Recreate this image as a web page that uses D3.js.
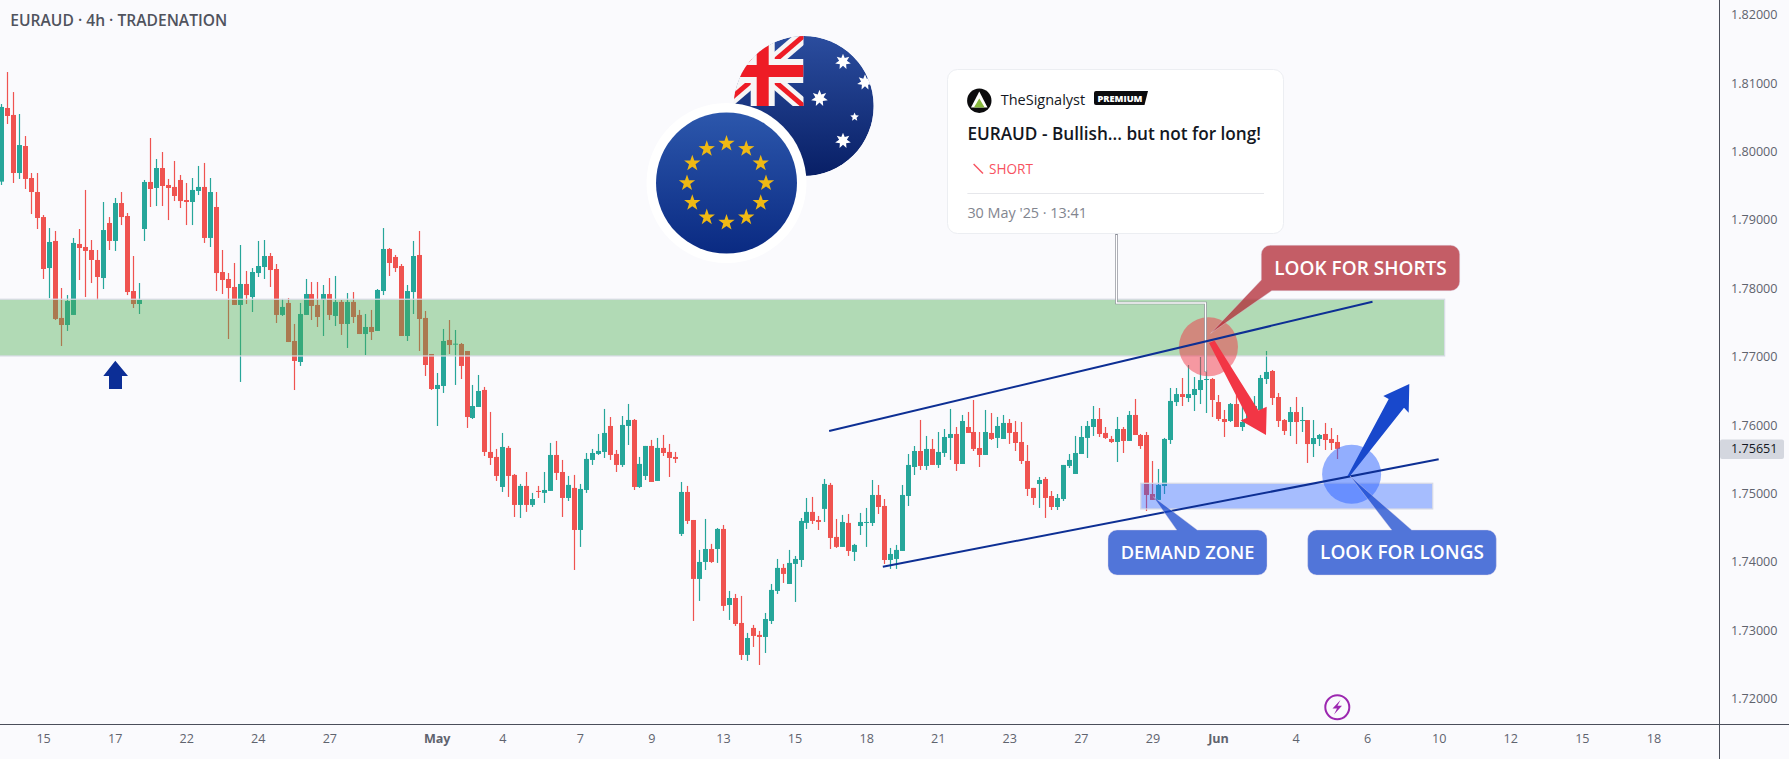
<!DOCTYPE html>
<html>
<head>
<meta charset="utf-8">
<title>EURAUD 4h</title>
<script src="https://cdn.jsdelivr.net/npm/d3@7/dist/d3.min.js"></script>
<style>
  html, body { margin: 0; padding: 0; background: #fafafd; overflow: hidden; }
  svg { display: block; }
  text { font-family: "Open Sans", "Noto Sans", sans-serif; }
</style>
</head>
<body>
<svg id="chart" width="1789" height="759"></svg>
<script>
// EURAUD 4h candles, one entry per bar
const opens = [
1.79560,1.80637,1.80535,1.79686,1.80081,1.79613,1.79408,1.79042,1.78296,1.78692,1.77566,1.77463,1.77610,1.78648,1.78604,1.78560,1.78414,1.78150,1.78955,1.78692,1.79247,1.79057,1.77960,1.77770,1.78867,
1.79555,1.79467,1.79759,1.79511,1.79482,1.79584,1.79291,1.79262,1.79423,1.79482,1.78736,1.79189,1.78238,1.78136,1.78019,1.77756,1.78063,1.77872,1.78223,1.78311,1.78472,1.78282,1.77610,1.77785,1.77229,
1.76922,1.77610,1.77916,1.77756,1.77829,1.77916,1.77595,1.77800,1.77478,1.77800,1.77610,1.77331,1.77434,1.77376,1.77960,1.78575,1.78458,1.78326,1.77302,1.77945,1.78487,1.77566,1.77039,1.76527,1.76571,
1.77244,1.77175,1.77185,1.77083,1.76103,1.76264,1.76513,1.75606,1.75533,1.75094,1.75665,1.75270,1.74831,1.75109,1.74831,1.75036,1.75007,1.75036,1.75562,1.75313,1.74933,1.75080,1.74465,1.75050,1.75489,
1.75577,1.75606,1.75986,1.75577,1.75416,1.75986,1.76074,1.75094,1.75255,1.75694,1.75182,1.75665,1.75606,1.75533,1.74407,1.75021,1.74611,1.73749,1.73997,1.74187,1.74187,1.74480,1.73368,1.73470,1.73105,
1.72637,1.73032,1.72930,1.72900,1.73134,1.73573,1.73910,1.73675,1.73968,1.74026,1.74568,1.74729,1.74611,1.74773,1.75124,1.74363,1.74217,1.74568,1.74144,1.74523,1.74572,1.74567,1.74977,1.74816,1.74026,
1.74041,1.74158,1.74962,1.75386,1.75620,1.75401,1.75650,1.75416,1.75591,1.75811,1.75869,1.75430,1.75971,1.75898,1.75664,1.75562,1.75884,1.75811,1.75796,1.76030,1.75898,1.75752,1.75474,1.75080,1.75138,
1.75211,1.74962,1.74801,1.74918,1.75401,1.75284,1.75576,1.75811,1.75971,1.76088,1.75884,1.75796,1.75752,1.75942,1.75767,1.76147,1.75854,1.75854,1.74991,1.74904,1.75108,1.75781,1.76336,1.76453,1.76395,
1.76439,1.76512,1.76663,1.76673,1.76336,1.76088,1.76059,1.76307,1.75971,1.76044,1.76220,1.76220,1.76673,1.76790,1.76410,1.76073,1.76044,1.76190,1.76059,1.76073,1.75722,1.75796,1.75869,1.75796,1.75752
];
const closes = [
1.80652,1.80520,1.79686,1.80095,1.79599,1.79408,1.79028,1.78282,1.78677,1.77551,1.77463,1.77814,1.78663,1.78589,1.78546,1.78414,1.78165,1.78852,1.78692,1.79247,1.79042,1.77945,1.77770,1.77829,1.79555,
1.79452,1.79759,1.79496,1.79467,1.79350,1.79276,1.79262,1.79438,1.79482,1.78736,1.79408,1.78223,1.78121,1.78004,1.77756,1.78063,1.77901,1.78238,1.78326,1.78472,1.78267,1.77610,1.77727,1.77214,1.76937,
1.77624,1.77916,1.77741,1.77580,1.77916,1.77610,1.77800,1.77478,1.77800,1.77580,1.77331,1.77434,1.77360,1.77975,1.78575,1.78370,1.78296,1.77302,1.77960,1.78472,1.77551,1.76878,1.76527,1.76586,1.77229,
1.77170,1.77190,1.76864,1.76117,1.76278,1.76498,1.75606,1.75518,1.75255,1.75679,1.75255,1.74831,1.75109,1.74831,1.74918,1.75021,1.75050,1.75562,1.75299,1.74933,1.75124,1.74465,1.75065,1.75504,1.75591,
1.75621,1.75884,1.75562,1.75416,1.76001,1.76074,1.75094,1.75431,1.75694,1.75167,1.75665,1.75591,1.75518,1.75504,1.75021,1.74597,1.73749,1.73997,1.74187,1.73997,1.74480,1.73354,1.73470,1.73090,1.72637,
1.72885,1.72915,1.72900,1.73163,1.73588,1.73910,1.73822,1.73983,1.74041,1.74597,1.74729,1.74597,1.74582,1.75138,1.74348,1.74217,1.74582,1.74158,1.74246,1.74582,1.74582,1.74977,1.74801,1.74026,1.74114,
1.74173,1.74977,1.75416,1.75620,1.75401,1.75650,1.75416,1.75606,1.75825,1.75869,1.75430,1.76059,1.75884,1.75650,1.75562,1.75898,1.75796,1.75986,1.76030,1.75884,1.75737,1.75474,1.75065,1.74933,1.75196,
1.74933,1.74801,1.74933,1.75416,1.75489,1.75591,1.75825,1.75986,1.76088,1.75869,1.75811,1.75752,1.75942,1.75767,1.76147,1.75854,1.75693,1.74977,1.74904,1.75123,1.75796,1.76352,1.76453,1.76410,1.76453,
1.76527,1.76658,1.76673,1.76366,1.76088,1.76044,1.76307,1.75971,1.76044,1.76268,1.76278,1.76688,1.76776,1.76395,1.76059,1.75913,1.76190,1.76044,1.76073,1.75722,1.75810,1.75854,1.75781,1.75737,1.75651
];
const highs = [
1.80695,1.81163,1.80870,1.80549,1.80227,1.79686,1.79686,1.79072,1.78881,1.78838,1.78004,1.77901,1.78736,1.78867,1.79438,1.78706,1.78560,1.79262,1.79042,1.79321,1.79408,1.79101,1.78472,1.78077,1.79584,
1.80198,1.79891,1.79993,1.79599,1.79862,1.79657,1.79540,1.79613,1.79789,1.79833,1.79613,1.79408,1.78560,1.78223,1.78370,1.78633,1.78253,1.78296,1.78692,1.78706,1.78516,1.78355,1.77844,1.77858,1.77478,
1.77785,1.78136,1.78092,1.78092,1.78048,1.78150,1.78180,1.77829,1.77931,1.77945,1.77683,1.77624,1.77683,1.77989,1.78881,1.78589,1.78487,1.78355,1.78048,1.78692,1.78838,1.77668,1.77039,1.76761,1.77405,
1.77536,1.77390,1.77200,1.77083,1.76586,1.76732,1.76557,1.76191,1.75650,1.75884,1.75694,1.75284,1.75138,1.75313,1.75007,1.75109,1.75313,1.75738,1.75767,1.75489,1.75255,1.75270,1.75138,1.75591,1.75650,
1.75869,1.76235,1.76117,1.75635,1.76132,1.76308,1.76088,1.75533,1.75694,1.75782,1.75811,1.75855,1.75723,1.75606,1.75167,1.75109,1.74611,1.74173,1.74626,1.74261,1.74494,1.74538,1.73573,1.73529,1.73500,
1.72959,1.73076,1.72988,1.73251,1.73675,1.74041,1.73968,1.74173,1.74085,1.74640,1.74933,1.74948,1.74670,1.75211,1.75153,1.74626,1.74685,1.74699,1.74261,1.74714,1.74787,1.75196,1.75123,1.74918,1.74202,
1.74246,1.75123,1.75576,1.75693,1.76074,1.75840,1.75796,1.75898,1.75942,1.76235,1.75971,1.76147,1.76191,1.76366,1.75898,1.76220,1.76176,1.76118,1.76147,1.76088,1.76059,1.76044,1.75708,1.75080,1.75240,
1.75240,1.75035,1.74991,1.75416,1.75576,1.75840,1.75986,1.76059,1.76278,1.76249,1.75971,1.75840,1.76118,1.75971,1.76205,1.76381,1.75869,1.75898,1.75474,1.75357,1.75811,1.76542,1.76541,1.76688,1.76878,
1.76702,1.76995,1.76805,1.76688,1.76439,1.76220,1.76322,1.76439,1.76293,1.76366,1.76424,1.76732,1.77083,1.76805,1.76468,1.76088,1.76264,1.76410,1.76264,1.76073,1.76073,1.75869,1.76030,1.75956,1.75854
];
const lows = [
1.79511,1.80403,1.79540,1.79599,1.79452,1.79086,1.78867,1.78136,1.77856,1.77536,1.77156,1.77376,1.77610,1.78121,1.77872,1.78077,1.77829,1.77989,1.78560,1.78546,1.78925,1.77901,1.77712,1.77624,1.78692,
1.79189,1.79203,1.79203,1.78998,1.79276,1.79174,1.78925,1.78925,1.79364,1.78663,1.78604,1.77960,1.77916,1.77258,1.77756,1.76630,1.77770,1.77653,1.78165,1.78136,1.78019,1.77492,1.77595,1.77214,1.76512,
1.76864,1.77610,1.77536,1.77434,1.77302,1.77536,1.77448,1.77317,1.77127,1.77492,1.77331,1.77024,1.77244,1.77376,1.77901,1.78180,1.78238,1.77302,1.77229,1.77624,1.77083,1.76717,1.76512,1.75986,1.76469,
1.77039,1.76586,1.76673,1.75957,1.76088,1.76264,1.75547,1.75416,1.75182,1.75021,1.74948,1.74655,1.74640,1.74729,1.74802,1.74933,1.74860,1.75036,1.75196,1.74655,1.74889,1.73880,1.74217,1.75007,1.75416,
1.75562,1.75518,1.75489,1.75313,1.75387,1.75708,1.75050,1.75080,1.75196,1.75167,1.75182,1.75547,1.75240,1.75445,1.74377,1.74553,1.73134,1.73427,1.73880,1.73983,1.73983,1.73281,1.73149,1.73061,1.72564,
1.72550,1.72754,1.72490,1.72666,1.73090,1.73529,1.73690,1.73675,1.73412,1.73924,1.74480,1.74553,1.74465,1.74582,1.74187,1.74202,1.74217,1.74085,1.74012,1.74392,1.74217,1.74523,1.74699,1.73968,1.73895,
1.73895,1.74158,1.74816,1.75269,1.75343,1.75343,1.75416,1.75372,1.75533,1.75489,1.75328,1.75430,1.75884,1.75620,1.75386,1.75562,1.75781,1.75664,1.75796,1.75723,1.75620,1.75430,1.74962,1.74831,1.74787,
1.74641,1.74757,1.74757,1.74889,1.75372,1.75284,1.75576,1.75518,1.75840,1.75825,1.75796,1.75737,1.75459,1.75591,1.75767,1.75854,1.75650,1.74743,1.74904,1.74904,1.74991,1.75723,1.76278,1.76278,1.76336,
1.76205,1.76307,1.76176,1.76117,1.76059,1.75825,1.76044,1.75971,1.75913,1.76015,1.76171,1.76220,1.76600,1.76293,1.75971,1.75854,1.75839,1.75722,1.75898,1.75445,1.75532,1.75693,1.75635,1.75635,1.75503
];

// Axis content
const priceTicks = [1.72,1.73,1.74,1.75,1.76,1.77,1.78,1.79,1.80,1.81,1.82];
const timeTickBars = [7,19,31,43,55,73,84,97,109,121,133,145,157,169,181,193,204,217,229,241,253,265,277];
const timeTickLabels = ["15","17","22","24","27","May","4","7","9","13","15","18","21","23","27","29","Jun","4","6","10","12","15","18"];
const boldTimeLabels = ["May","Jun"];
const lastPrice = 1.75651;

// Levels and trend lines drawn on the price pane
const supplyZone = { bars: [-2, 242], prices: [1.7701, 1.7784] };
const demandZone = { bars: [191.05, 240], prices: [1.74772, 1.75148] };
const upperTrend = { bars: [138.8, 229.9], prices: [1.75912, 1.77804] };
const lowerTrend = { bars: [147.8, 241.0], prices: [1.73928, 1.75499] };
const shortMarker = { bar: 202.4, price: 1.77146 };
const longMarker = { bar: 226.4, price: 1.75279 };

const svg = d3.select("#chart");
const W = 1789, H = 759, paneRight = 1719.5, paneBottom = 724.5;

const x = d3.scaleLinear().domain([0, opens.length - 1]).range([1.33, 1337.3]);
const y = d3.scaleLinear().domain([1.72, 1.82]).range([698.5, 14.8]);
const snap = v => Math.round(v);

const defs = svg.append("defs");
function verticalGradient(id, top, bottom) {
  const g = defs.append("linearGradient").attr("id", id).attr("x1", 0).attr("x2", 0).attr("y1", 0).attr("y2", 1);
  g.append("stop").attr("offset", "0%").attr("stop-color", top);
  g.append("stop").attr("offset", "100%").attr("stop-color", bottom);
}
verticalGradient("euBlue", "#2c57ac", "#0a2a82");
verticalGradient("auBlue", "#2b4d9e", "#081f66");

svg.append("rect").attr("width", W).attr("height", H).attr("fill", "#fafafd");

// Candles
const bars = d3.range(opens.length);
const candleColor = i => closes[i] >= opens[i] ? "#26a69a" : "#ef5350";
const candles = svg.append("g");
candles.selectAll("rect.wick").data(bars).join("rect").attr("class", "wick")
  .attr("x", i => snap(x(i)) - 0.1).attr("width", 1.2)
  .attr("y", i => y(highs[i])).attr("height", i => y(lows[i]) - y(highs[i]))
  .attr("fill", candleColor);
candles.selectAll("rect.body").data(bars).join("rect").attr("class", "body")
  .attr("x", i => snap(x(i)) - 2).attr("width", 5)
  .attr("y", i => y(Math.max(opens[i], closes[i])))
  .attr("height", i => Math.max(1, Math.abs(y(opens[i]) - y(closes[i]))))
  .attr("fill", candleColor);

// Zones
function zone(z, fill) {
  svg.append("rect")
    .attr("x", x(z.bars[0])).attr("width", x(z.bars[1]) - x(z.bars[0]))
    .attr("y", y(z.prices[1])).attr("height", y(z.prices[0]) - y(z.prices[1]))
    .attr("fill", fill).attr("stroke", "#d8dbe6").attr("stroke-width", 1.2);
}
zone(supplyZone, "rgba(76,175,80,0.42)");
zone(demandZone, "rgba(41,98,255,0.4)");

// Up arrow under the green zone
svg.append("path").attr("fill", "#0c2e96")
  .attr("d", "M115.3,360.7 L128,376 L122,376 L122,389 L109,389 L109,376 L103.3,376 Z");

// Markers on the two decision points
svg.append("circle").attr("cx", x(shortMarker.bar)).attr("cy", y(shortMarker.price)).attr("r", 29.5)
  .attr("fill", "rgba(242,54,69,0.5)");
svg.append("circle").attr("cx", x(longMarker.bar)).attr("cy", y(longMarker.price)).attr("r", 29.5)
  .attr("fill", "rgba(41,98,255,0.5)");

// Connector from the idea card to its bar
svg.append("path").attr("fill", "none").attr("stroke", "#8a8d96").attr("stroke-width", 2.6)
  .attr("d", "M1116.5,234 V303 H1205.5 V372");
svg.append("path").attr("fill", "none").attr("stroke", "#ffffff").attr("stroke-width", 1.3)
  .attr("d", "M1116.5,235 V303 H1205.5 V371.5");

// Trend lines
const trendLine = d3.line().x(d => x(d[0])).y(d => y(d[1]));
[upperTrend, lowerTrend].forEach(t => {
  svg.append("path").attr("fill", "none").attr("stroke", "#0d2f94").attr("stroke-width", 2)
    .attr("d", trendLine(d3.zip(t.bars, t.prices)));
});

// Callouts with a pointer tail
function calloutPath(x0, y0, x1, y1, r, tail) {
  const p = d3.path();
  p.moveTo(x0 + r, y0);
  if (tail.side === "top") {
    p.lineTo(tail.a[0], y0); p.lineTo(tail.tip[0], tail.tip[1]); p.lineTo(tail.b[0], y0);
  }
  p.lineTo(x1 - r, y0); p.arcTo(x1, y0, x1, y0 + r, r);
  p.lineTo(x1, y1 - r); p.arcTo(x1, y1, x1 - r, y1, r);
  if (tail.side === "corner") {
    p.lineTo(tail.b[0], y1); p.lineTo(tail.tip[0], tail.tip[1]); p.lineTo(x0, tail.a[1]);
  } else {
    p.lineTo(x0 + r, y1); p.arcTo(x0, y1, x0, y1 - r, r);
  }
  p.lineTo(x0, y0 + r); p.arcTo(x0, y0, x0 + r, y0, r);
  p.closePath();
  return p.toString();
}
function callout(box, tail, fill, label, fontSize) {
  svg.append("path").attr("d", calloutPath(box[0], box[1], box[2], box[3], 9, tail))
    .attr("fill", fill).attr("stroke", "rgba(220,210,230,0.5)").attr("stroke-width", 0.8);
  svg.append("text").attr("x", (box[0] + box[2]) / 2).attr("y", (box[1] + box[3]) / 2 + 6.6)
    .attr("text-anchor", "middle").attr("fill", "#fff").attr("font-size", fontSize).attr("font-weight", 600)
    .text(label);
}
callout([1261.3, 245.3, 1459.7, 290.7], { side: "corner", a: [0, 280], b: [1271.7, 0], tip: [1210.7, 333.3] },
  "rgba(178,40,51,0.75)", "LOOK FOR SHORTS", 19);
callout([1108, 530, 1267, 575], { side: "top", a: [1176.7], b: [1197.3], tip: [1153.3, 496.7] },
  "rgba(24,72,204,0.75)", "DEMAND ZONE", 18.2);
callout([1307.7, 530, 1496.3, 575], { side: "top", a: [1391.7], b: [1411.7], tip: [1350, 476] },
  "rgba(24,72,204,0.75)", "LOOK FOR LONGS", 19);

// Projected move arrows
svg.append("path").attr("fill", "#f23645")
  .attr("d", "M1209,343 L1214.5,340.5 L1258.5,410.5 L1266.7,406.7 L1266,435 L1240.7,420.5 L1247.5,417.5 Z");
svg.append("path").attr("fill", "#1848cc")
  .attr("d", "M1347.5,476 L1350,476 L1404,407.8 L1408.7,412.7 L1409.3,384 L1383.3,396 L1388.7,399 Z");

// Flags
const star = (cx, cy, outer, inner, n) => {
  const pts = d3.range(n * 2).map(k => {
    const r = k % 2 ? inner : outer;
    const a = -Math.PI / 2 + k * Math.PI / n;
    return [cx + r * Math.cos(a), cy + r * Math.sin(a)];
  });
  return "M" + pts.map(p => p.join(",")).join("L") + "Z";
};

const au = { cx: 803.7, cy: 106, r: 70 };
defs.append("clipPath").attr("id", "auClip").append("circle").attr("cx", au.cx).attr("cy", au.cy).attr("r", au.r);
defs.append("clipPath").attr("id", "cantonClip").append("rect").attr("x", 722).attr("y", 36).attr("width", 81.5).attr("height", 70);
const auFlag = svg.append("g").attr("clip-path", "url(#auClip)");
auFlag.append("circle").attr("cx", au.cx).attr("cy", au.cy).attr("r", au.r).attr("fill", "url(#auBlue)");
const canton = auFlag.append("g").attr("clip-path", "url(#cantonClip)");
[["M722,36 L803.5,106", "#f6f6f6", 14], ["M722,106 L803.5,36", "#f6f6f6", 14],
 ["M722,36 L803.5,106", "#ee1c25", 5], ["M722,106 L803.5,36", "#ee1c25", 5],
 ["M762.7,36 V106 M722,71 H803.5", "#f6f6f6", 24], ["M762.7,36 V106 M722,71 H803.5", "#ee1c25", 12]]
  .forEach(([d, color, width]) => canton.append("path").attr("d", d).attr("fill", "none").attr("stroke", color).attr("stroke-width", width));
[[819.5, 98.3, 8.5], [843, 61.7, 8], [865, 82.3, 8], [854.6, 117, 4.5], [843, 140.7, 8]].forEach(([cx, cy, r]) => {
  auFlag.append("path").attr("d", star(cx, cy, r, r * (r < 5 ? 0.45 : 0.5), r < 5 ? 5 : 7)).attr("fill", "#fff");
});

const eu = { cx: 726.5, cy: 183 };
svg.append("circle").attr("cx", eu.cx).attr("cy", eu.cy).attr("r", 80).attr("fill", "#ffffff");
svg.append("circle").attr("cx", eu.cx).attr("cy", eu.cy).attr("r", 70.5).attr("fill", "url(#euBlue)");
d3.range(12).forEach(k => {
  const a = k * Math.PI / 6;
  svg.append("path").attr("fill", "#efb914")
    .attr("d", star(eu.cx + 39.5 * Math.sin(a), eu.cy - 39.5 * Math.cos(a), 8.6, 3.4, 5));
});

// Idea card
svg.append("rect").attr("x", 947.5).attr("y", 69.5).attr("width", 336).attr("height", 164).attr("rx", 10)
  .attr("fill", "#ffffff").attr("stroke", "#eceef2");
svg.append("circle").attr("cx", 979.3).attr("cy", 100.7).attr("r", 12.2).attr("fill", "#0b0b0d");
svg.append("path").attr("d", "M979.3,91.5 L987.5,107.5 L971,107.5 Z").attr("fill", "#fff");
svg.append("path").attr("d", "M979.3,98.5 L984.7,107.5 L973.9,107.5 Z").attr("fill", "#86b83c");
svg.append("text").attr("x", 1000.7).attr("y", 104.5).attr("font-size", 14.5).attr("fill", "#131722").text("TheSignalyst");
svg.append("path").attr("d", "M1096,91 H1148 L1144.5,105 H1096 Q1094,105 1094,103 V93 Q1094,91 1096,91 Z").attr("fill", "#0b0b0d");
svg.append("text").attr("x", 1097.5).attr("y", 101.8).attr("font-size", 9.2).attr("font-weight", 800).attr("fill", "#fff").text("PREMIUM");
svg.append("text").attr("x", 967.4).attr("y", 140).attr("font-size", 17.2).attr("font-weight", 600).attr("fill", "#131722")
  .text("EURAUD - Bullish... but not for long!");
svg.append("path").attr("d", "M973.6,164 L983,173.5").attr("stroke", "#f7525f").attr("stroke-width", 1.4).attr("fill", "none");
svg.append("text").attr("x", 989).attr("y", 174).attr("font-size", 13.6).attr("fill", "#f7525f").text("SHORT");
svg.append("line").attr("x1", 967.4).attr("x2", 1264).attr("y1", 193.5).attr("y2", 193.5).attr("stroke", "#e6e7eb");
svg.append("text").attr("x", 967.4).attr("y", 218).attr("font-size", 14.4).attr("fill", "#82858f").text("30 May '25 · 13:41");

// Symbol line
svg.append("text").attr("x", 10.3).attr("y", 26).attr("font-size", 15.6).attr("font-weight", 600).attr("fill", "#50535e")
  .text("EURAUD · 4h · TRADENATION");

// Dividend-style event badge on the time scale
svg.append("circle").attr("cx", 1337.3).attr("cy", 707.3).attr("r", 12).attr("fill", "#fafafd")
  .attr("stroke", "#9c27b0").attr("stroke-width", 2);
svg.append("path").attr("fill", "#9c27b0")
  .attr("d", "M1340.5,700 L1332.5,708.5 L1337,708.5 L1334,714.5 L1342,705.8 L1337.5,705.8 Z");

// Axes
const yAxis = d3.axisRight(y).tickValues(priceTicks).tickSize(0).tickPadding(11.5).tickFormat(d3.format(".5f"));
const yG = svg.append("g").attr("transform", `translate(${paneRight},0)`).call(yAxis);
yG.select(".domain").remove();
yG.selectAll("text").attr("font-size", 12.6).attr("fill", "#5f636e").style("font-family", '"Open Sans", sans-serif');

const xAxis = d3.axisBottom(x).tickValues(timeTickBars).tickSize(0).tickPadding(9.5)
  .tickFormat((d, i) => timeTickLabels[i]);
const xG = svg.append("g").attr("transform", `translate(0,${paneBottom})`).call(xAxis);
xG.select(".domain").remove();
xG.selectAll("text").attr("font-size", 12.6).attr("fill", "#5f636e")
  .style("font-family", '"Open Sans", sans-serif')
  .attr("font-weight", (d, i) => boldTimeLabels.includes(timeTickLabels[i]) ? 700 : 400);

svg.append("line").attr("x1", 0).attr("x2", W).attr("y1", paneBottom).attr("y2", paneBottom).attr("stroke", "#4a4e5a");
svg.append("line").attr("x1", paneRight).attr("x2", paneRight).attr("y1", 0).attr("y2", H).attr("stroke", "#4a4e5a");

// Last price tag
const tagY = y(lastPrice);
svg.append("rect").attr("x", 1720).attr("y", tagY - 9.5).attr("width", 64).attr("height", 19.5).attr("rx", 2).attr("fill", "#d4d7df");
svg.append("text").attr("x", 1731).attr("y", tagY + 4.5).attr("font-size", 12.6).attr("fill", "#131722").text(d3.format(".5f")(lastPrice));
</script>
</body>
</html>
